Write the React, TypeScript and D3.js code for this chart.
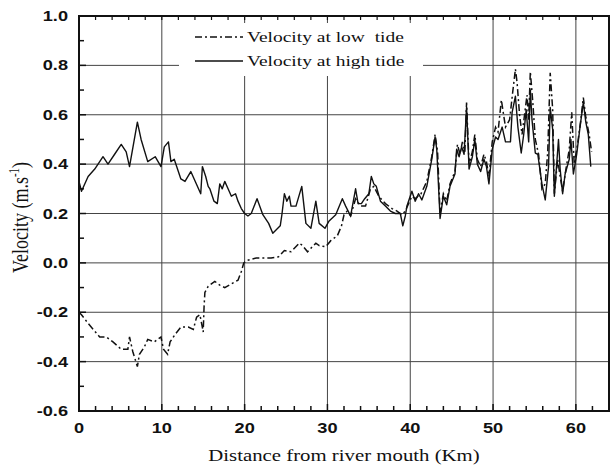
import React from 'react';
import * as d3 from 'd3';

// distance from the river mouth (km) and velocity (m/s)
const highKm = [0, 0.3, 1.1, 1.9, 2.9, 3.5, 4.3, 5.1, 5.7, 6.1, 7.05, 7.5, 8.3, 9.2, 9.9, 10.3, 10.8, 11.1, 11.5, 12.3, 12.8, 13.5, 14.7, 14.9, 15.3, 15.6, 15.8, 16.3, 16.7, 17.0, 17.3, 17.6, 18.0, 18.4, 18.9, 19.2, 19.6, 20.0, 20.4, 20.8, 21.5, 22.2, 22.9, 23.4, 24.3, 24.5, 24.8, 25.1, 25.4, 25.6, 26.2, 26.9, 27.4, 28.0, 28.6, 29.0, 29.7, 30.2, 31.0, 31.8, 32.2, 32.8, 33.4, 33.7, 34.1, 34.5, 35.0, 35.3, 35.6, 35.9, 36.4, 37.0, 37.6, 38.2, 38.8, 39.1, 39.4, 39.6, 40.2, 40.6, 41.0, 41.4, 42.0, 42.6, 43.0, 43.2, 43.6, 44.0, 44.4, 44.8, 45.4, 45.6, 45.9, 46.2, 46.5, 46.8, 47.1, 47.5, 47.8, 48.1, 48.5, 48.9, 49.2, 49.5, 49.9, 50.3, 50.6, 51.1, 51.5, 52.1, 52.3, 52.7, 53.0, 53.4, 53.7, 54.0, 54.3, 54.5, 54.7, 55.1, 55.4, 55.9, 56.3, 56.7, 56.9, 57.2, 57.4, 57.9, 58.1, 58.4, 58.7, 59.2, 59.4, 59.7, 60.1, 60.5, 60.9, 61.2, 61.5, 61.8];
const highVel = [0.33, 0.29, 0.35, 0.38, 0.43, 0.40, 0.44, 0.48, 0.45, 0.39, 0.57, 0.50, 0.41, 0.43, 0.39, 0.47, 0.49, 0.41, 0.42, 0.34, 0.33, 0.37, 0.28, 0.39, 0.35, 0.31, 0.30, 0.25, 0.24, 0.32, 0.30, 0.33, 0.30, 0.27, 0.28, 0.25, 0.22, 0.20, 0.19, 0.20, 0.26, 0.195, 0.16, 0.12, 0.15, 0.195, 0.28, 0.25, 0.27, 0.23, 0.23, 0.31, 0.16, 0.14, 0.25, 0.16, 0.14, 0.17, 0.195, 0.26, 0.23, 0.19, 0.30, 0.24, 0.24, 0.26, 0.28, 0.35, 0.32, 0.31, 0.25, 0.23, 0.21, 0.20, 0.20, 0.15, 0.19, 0.23, 0.29, 0.25, 0.28, 0.255, 0.31, 0.42, 0.51, 0.46, 0.18, 0.27, 0.235, 0.31, 0.36, 0.46, 0.43, 0.47, 0.44, 0.63, 0.38, 0.43, 0.50, 0.40, 0.37, 0.42, 0.39, 0.32, 0.46, 0.51, 0.50, 0.55, 0.49, 0.49, 0.61, 0.675, 0.55, 0.445, 0.52, 0.62, 0.49, 0.70, 0.58, 0.445, 0.44, 0.32, 0.255, 0.39, 0.63, 0.54, 0.27, 0.50, 0.38, 0.28, 0.36, 0.42, 0.50, 0.36, 0.44, 0.55, 0.65, 0.57, 0.52, 0.39];

const lowKm = [0, 0.3, 1.1, 2.5, 3.3, 4.1, 5.1, 5.9, 6.1, 6.5, 7.05, 7.3, 7.9, 8.3, 9.1, 9.9, 10.2, 10.7, 11.0, 11.6, 12.3, 13.2, 13.8, 14.2, 14.6, 15.0, 15.1, 15.2, 15.6, 16.4, 17.0, 17.6, 18.4, 19.2, 19.6, 19.9, 20.3, 21.4, 22.2, 23.2, 24.1, 24.8, 25.6, 26.6, 27.0, 27.6, 28.6, 29.0, 29.8, 30.4, 31.2, 31.7, 32.0, 32.4, 32.8, 33.4, 34.0, 34.6, 35.2, 35.6, 36.2, 37.0, 37.8, 38.4, 39.0, 39.4, 40.2, 40.6, 41.3, 42.0, 42.6, 43.0, 43.3, 43.6, 44.0, 44.4, 44.8, 45.4, 45.7, 46.0, 46.3, 46.6, 46.8, 47.1, 47.5, 47.8, 48.1, 48.5, 48.9, 49.2, 49.5, 49.9, 50.3, 50.6, 51.0, 51.5, 52.0, 52.4, 52.7, 52.9, 53.2, 53.5, 53.8, 54.1, 54.3, 54.5, 54.8, 55.1, 55.5, 55.9, 56.3, 56.6, 56.9, 57.2, 57.4, 57.8, 58.1, 58.4, 58.8, 59.2, 59.5, 59.8, 60.2, 60.6, 60.9, 61.2, 61.6, 61.9];
const lowVel = [-0.20, -0.21, -0.245, -0.30, -0.30, -0.32, -0.35, -0.35, -0.30, -0.36, -0.42, -0.37, -0.34, -0.31, -0.32, -0.30, -0.35, -0.37, -0.32, -0.29, -0.26, -0.26, -0.27, -0.22, -0.21, -0.28, -0.18, -0.12, -0.095, -0.075, -0.09, -0.10, -0.085, -0.07, -0.035, 0.0, 0.01, 0.02, 0.02, 0.02, 0.025, 0.05, 0.045, 0.08, 0.07, 0.045, 0.08, 0.07, 0.065, 0.09, 0.11, 0.15, 0.195, 0.21, 0.19, 0.26, 0.23, 0.23, 0.30, 0.31, 0.27, 0.24, 0.22, 0.21, 0.195, 0.21, 0.27, 0.26, 0.28, 0.33, 0.43, 0.52, 0.45, 0.20, 0.28, 0.25, 0.32, 0.37, 0.48, 0.44, 0.49, 0.45, 0.65, 0.40, 0.45, 0.52, 0.42, 0.39, 0.44, 0.41, 0.35, 0.49, 0.55, 0.53, 0.66, 0.55, 0.58, 0.70, 0.785, 0.73, 0.60, 0.52, 0.60, 0.68, 0.58, 0.775, 0.65, 0.50, 0.44, 0.30, 0.32, 0.45, 0.77, 0.62, 0.28, 0.42, 0.35, 0.29, 0.38, 0.46, 0.61, 0.40, 0.48, 0.58, 0.67, 0.59, 0.52, 0.45];

const xTicks = [0, 10, 20, 30, 40, 50, 60];
const yTicks = [-0.6, -0.4, -0.2, 0.0, 0.2, 0.4, 0.6, 0.8, 1.0];
const legendLabels = ['Velocity at low  tide', 'Velocity at high tide'];

const W = 610, H = 469;
const left = 79, right = 609, top = 16, bottom = 411;
// the picture is stretched sideways, so text is widened too
const SX = 1.3;

export default function App() {
	const x = d3.scaleLinear().domain([0, 64]).range([left, right]);
	const y = d3.scaleLinear().domain([-0.6, 1.0]).range([bottom, top]);

	const path = (km: number[], vel: number[]) =>
		d3.line<number>().x((d) => x(d)).y((d, i) => y(vel[i]))(km) || '';

	const xMinor = d3.range(0, 64.01, 2);
	const yMinor = d3.range(-0.6, 1.001, 0.1);

	const tickFont = { fontFamily: '"Liberation Sans", Arial, sans-serif', fontWeight: 'bold', fontSize: 14 };
	const serif = { fontFamily: '"Liberation Serif", "Times New Roman", serif' };

	return (
		<svg width={W} height={H} style={{ position: 'absolute', left: 0, top: 0, background: '#fff' }}>
			{/* grid */}
			{xTicks.slice(1).map((t) => (
				<line key={'gx' + t} x1={x(t)} x2={x(t)} y1={top} y2={bottom} stroke="#444" strokeWidth={1} />
			))}
			{yTicks.slice(1, -1).map((t) => (
				<line key={'gy' + t} x1={left} x2={right} y1={y(t)} y2={y(t)} stroke="#444" strokeWidth={1} />
			))}

			{/* data */}
			<path d={path(highKm, highVel)} fill="none" stroke="#111" strokeWidth={1.4} strokeLinejoin="round" />
			<path d={path(lowKm, lowVel)} fill="none" stroke="#111" strokeWidth={1.5} strokeDasharray="7,3,2,3" />

			{/* legend */}
			<rect x={179} y={23} width={244} height={53} fill="#fff" />
			<line x1={195} x2={243} y1={37} y2={37} stroke="#111" strokeWidth={1.5} strokeDasharray="7,3,2,3" />
			<line x1={195} x2={243} y1={61} y2={61} stroke="#111" strokeWidth={1.4} />
			{legendLabels.map((s, i) => (
				<text key={s} transform={`translate(247,${42 + i * 24}) scale(${SX},1)`} fontSize={15} style={serif} fill="#111" xmlSpace="preserve">{s}</text>
			))}

			{/* ticks */}
			{xMinor.map((t) => (
				<g key={'tx' + t}>
					<line x1={x(t)} x2={x(t)} y1={bottom} y2={bottom - (t % 10 === 0 ? 7 : 5)} stroke="#111" strokeWidth={1.5} />
					<line x1={x(t)} x2={x(t)} y1={top} y2={top + 4} stroke="#111" strokeWidth={1.2} />
				</g>
			))}
			{yMinor.map((t) => (
				<line key={'ty' + t} x1={left} x2={left + (Math.round(t * 10) % 2 === 0 ? 7 : 5)} y1={y(t)} y2={y(t)} stroke="#111" strokeWidth={1.5} />
			))}

			{/* frame */}
			<rect x={left} y={top} width={right - left} height={bottom - top} fill="none" stroke="#111" strokeWidth={2} />

			{/* tick labels */}
			{xTicks.map((t) => (
				<text key={'lx' + t} transform={`translate(${x(t)},433) scale(${SX},1)`} textAnchor="middle" style={tickFont} fill="#111">{t}</text>
			))}
			{yTicks.map((t) => (
				<text key={'ly' + t} transform={`translate(68,${y(t) + 5}) scale(${SX},1)`} textAnchor="end" style={tickFont} fill="#111">{t.toFixed(1)}</text>
			))}

			{/* axis titles */}
			<text transform={`translate(${(left + right) / 2},461) scale(${SX},1)`} textAnchor="middle" fontSize={16} style={serif} fill="#111">
				Distance from river mouth (Km)
			</text>
			<text transform={`translate(28,${(top + bottom) / 2 + 4}) scale(${SX},1) rotate(-90)`} textAnchor="middle" fontSize={18} style={serif} fill="#111">
				Velocity (m.s<tspan dy={-7} fontSize={11}>-1</tspan><tspan dy={7}>)</tspan>
			</text>
		</svg>
	);
}
